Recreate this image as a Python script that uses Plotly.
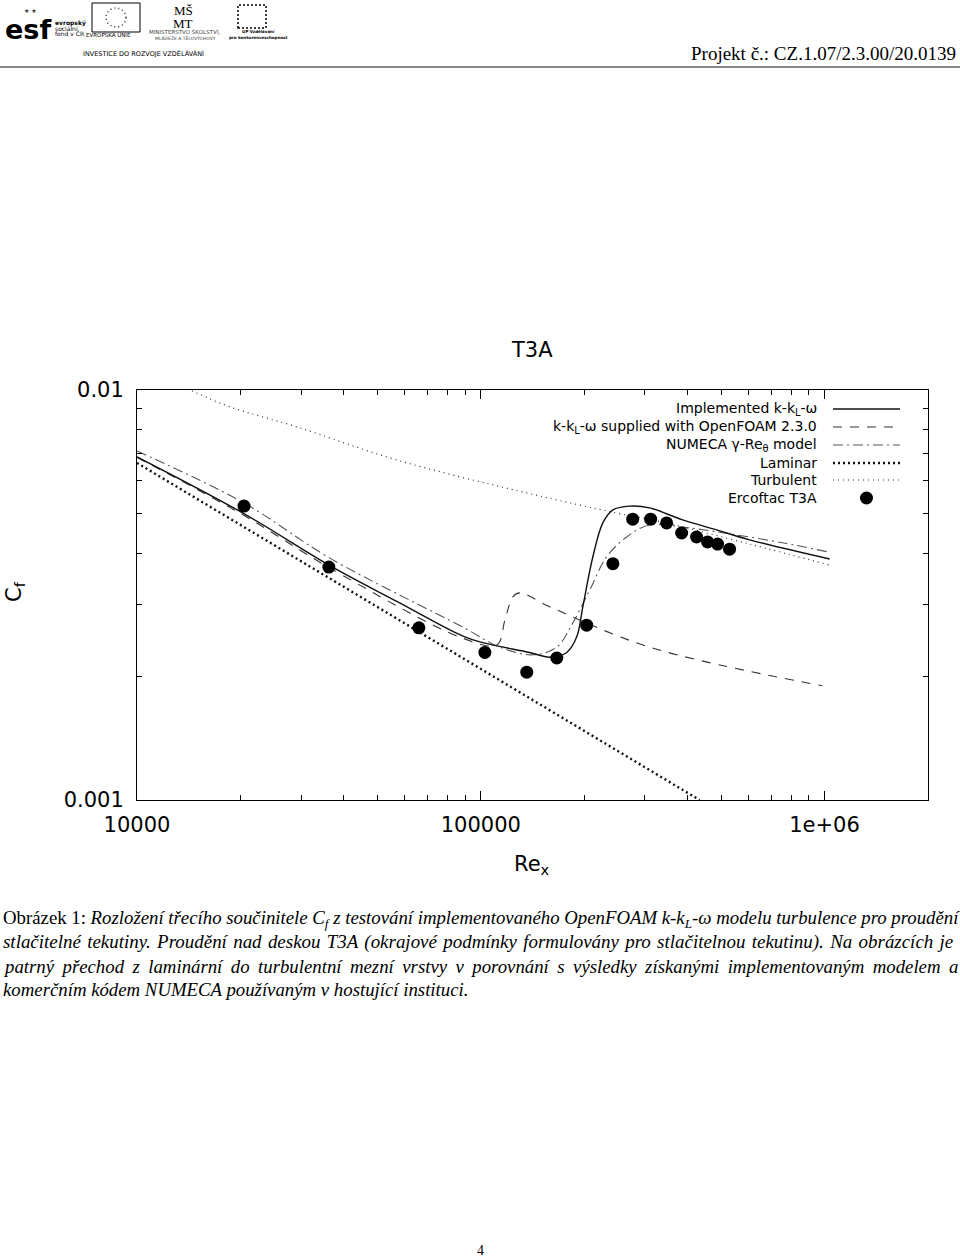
import plotly.graph_objects as go

# Re_x / C_f values
exp_re = [20480, 36140, 66070, 102800, 136100, 166400, 203300, 242300, 276700,
          312000, 347300, 384000, 424400, 456800, 488600, 529400]
exp_cf = [0.00521, 0.00370, 0.00263, 0.00229, 0.00205, 0.00222, 0.00267, 0.00377,
          0.00484, 0.00484, 0.00474, 0.00448, 0.00438, 0.00426, 0.00421, 0.00409]

impl_re = [10000, 20330, 36390, 57000, 88700, 101400, 138700, 158700, 177900, 190200,
           198100, 211900, 226500, 242300, 271200, 309800, 386500, 485200, 605300, 1035000]
impl_cf = [0.00687, 0.00501, 0.00373, 0.00305, 0.00251, 0.00242, 0.00229, 0.00223, 0.00229,
           0.00250, 0.00296, 0.00392, 0.00474, 0.00510, 0.00521, 0.00516, 0.00482, 0.00456,
           0.00431, 0.00387]

of_re = [10000, 20330, 36390, 88700, 111400, 117600, 124000, 129800, 158700, 309800, 986000]
of_cf = [0.00685, 0.00496, 0.00368, 0.00248, 0.00239, 0.00275, 0.00313, 0.00320, 0.00296,
         0.00236, 0.00190]

numeca_re = [10000, 20480, 36390, 88700, 113600, 141600, 166400, 185100, 207400, 232400,
             265600, 309800, 386500, 485200, 755000, 1035000]
numeca_cf = [0.00710, 0.00530, 0.00389, 0.00264, 0.00236, 0.00226, 0.00236, 0.00270,
             0.00325, 0.00392, 0.00438, 0.00469, 0.00463, 0.00451, 0.00424, 0.00402]

lam_re = [10000, 100000, 433000]
lam_cf = [0.00664, 0.00209, 0.00100]

turb_re = [10000, 14250, 18600, 29150, 57000, 136100, 248500, 338000, 605300, 1035000]
turb_cf = [0.0114, 0.0100, 0.00910, 0.00813, 0.00675, 0.00561, 0.00501, 0.00476,
           0.00421, 0.00374]

x_tickvals = [1e4, 1e5, 1e6]
x_ticktext = ["10000", "100000", "1e+06"]
y_tickvals = [0.001, 0.01]
y_ticktext = ["0.001", "0.01"]
x_minor = [k * 10 ** e for e in (4, 5) for k in range(2, 10)] + [2e6]
y_minor = [k * 0.001 for k in range(2, 10)]

legend_labels = [
    "Implemented k-k<sub>L</sub>-ω",
    "k-k<sub>L</sub>-ω supplied with OpenFOAM 2.3.0",
    "NUMECA γ-Re<sub>θ</sub> model",
    "Laminar",
    "Turbulent",
    "Ercoftac T3A",
]

caption_lines = [
    "Obrázek 1: <i>Rozložení třecího součinitele C<sub>f</sub> z testování implementovaného "
    "OpenFOAM k-k<sub>L</sub>-ω modelu turbulence pro proudění</i>",
    "<i>stlačitelné tekutiny. Proudění nad deskou T3A (okrajové podmínky formulovány pro "
    "stlačitelnou tekutinu). Na obrázcích je</i>",
    "<i>patrný přechod z laminární do turbulentní mezní vrstvy v porovnání s výsledky "
    "získanými implementovaným modelem a</i>",
    "<i>komerčním kódem NUMECA používaným v hostující instituci.</i>",
]
# extra space put into each word gap so the lines come out justified
caption_pad = ["", "\u200a", "\u2009", ""]
caption_size = [18.8, 18.95, 18.8, 18.8]

W, H = 960, 1259
L, R, T, B = 137, 928, 390, 800
SANS = "DejaVu Sans"
SERIF = "Liberation Serif"


def px(x):
    return (x - L) / (R - L)


def py(y):
    return (B - y) / (B - T)


def note(x, y, text, size, family=SANS, xanchor="center", color="black", **kw):
    fig.add_annotation(x=px(x), y=py(y), xref="paper", yref="paper", text=text,
                       showarrow=False, xanchor=xanchor, yanchor="middle",
                       font=dict(family=family, size=size, color=color), **kw)


def box(x0, y0, x1, y1, kind="rect", **line):
    fig.add_shape(type=kind, xref="paper", yref="paper", x0=px(x0), x1=px(x1),
                  y0=py(y1), y1=py(y0), line=line)


fig = go.Figure()

fig.add_trace(go.Scatter(x=turb_re, y=turb_cf, mode="lines", line_shape="spline",
                         line=dict(color="#333", width=1.2, dash="1px,4px")))
fig.add_trace(go.Scatter(x=lam_re, y=lam_cf, mode="lines",
                         line=dict(color="#111", width=2.4, dash="2px,3px")))
fig.add_trace(go.Scatter(x=numeca_re, y=numeca_cf, mode="lines", line_shape="spline",
                         line=dict(color="#555", width=1.1, dash="10px,4px,2px,4px")))
fig.add_trace(go.Scatter(x=of_re, y=of_cf, mode="lines", line_shape="spline",
                         line=dict(color="#333", width=1.1, dash="9px,8px")))
fig.add_trace(go.Scatter(x=impl_re, y=impl_cf, mode="lines", line_shape="spline",
                         line=dict(color="#111", width=1.4)))
fig.add_trace(go.Scatter(x=exp_re, y=exp_cf, mode="markers",
                         marker=dict(color="black", size=13)))

# legend drawn by hand: text right-aligned, sample on the right (gnuplot style)
row_y = [409, 427, 445, 463, 480, 498]
styles = [
    dict(color="#111", width=1.4, dash="solid"),
    dict(color="#333", width=1.1, dash="9px,8px"),
    dict(color="#555", width=1.1, dash="10px,4px,2px,4px"),
    dict(color="#111", width=2.4, dash="2px,3px"),
    dict(color="#333", width=1.2, dash="1px,4px"),
]
for i, lab in enumerate(legend_labels):
    note(819, row_y[i], lab, 14, xanchor="right")
    if i < 5:
        fig.add_shape(type="line", xref="paper", yref="paper",
                      x0=px(833), x1=px(900), y0=py(row_y[i]), y1=py(row_y[i]),
                      line=styles[i])
fig.add_shape(type="circle", xref="paper", yref="paper", fillcolor="black",
              line=dict(color="black", width=0),
              x0=px(860), x1=px(873), y0=py(504.5), y1=py(491.5))

axis_common = dict(type="log", showline=True, linecolor="black", linewidth=1,
                   mirror="allticks", ticks="inside", ticklen=9, tickcolor="black",
                   showgrid=False, zeroline=False,
                   tickfont=dict(family=SANS, size=21, color="black"))
fig.update_xaxes(range=[4, 6.30103], tickvals=x_tickvals, ticktext=x_ticktext,
                 minor=dict(tickvals=x_minor, ticks="inside", ticklen=5, tickcolor="black",
                            showgrid=False),
                 ticklabelstandoff=6, **axis_common)
fig.update_yaxes(range=[-3, -2], tickvals=y_tickvals, ticktext=y_ticktext,
                 minor=dict(tickvals=y_minor, ticks="inside", ticklen=5, tickcolor="black",
                            showgrid=False),
                 ticklabelstandoff=8, **axis_common)

# title and axis labels
note(532, 350, "T3A", 21)
note(532, 865, "Re<sub>x</sub>", 21)
note(15, 592, "C<sub>f</sub>", 21, textangle=-90)

# page header
note(958, 53, "Projekt č.: CZ.1.07/2.3.00/20.0139", 19, family=SERIF, xanchor="right")
fig.add_shape(type="line", xref="paper", yref="paper", x0=px(0), x1=px(960),
              y0=py(67), y1=py(67), line=dict(color="#888", width=2))
note(28, 29, "<b>esf</b>", 27)
note(30, 10, "★ ★", 6, color="#333")
note(53, 23, "<b>evropský</b>", 6, xanchor="left")
note(53, 28.5, "sociální", 6, xanchor="left")
note(53, 34, "fond v ČR", 6, xanchor="left")
box(92, 3, 140, 32, color="black", width=1)
box(106, 8, 126, 27, kind="circle", color="#333", width=1.5, dash="1px,3px")
note(108, 35, "EVROPSKÁ UNIE", 5.5)
note(183, 10, "MŠ", 13, family=SERIF)
note(183, 23, "MT", 13, family=SERIF)
note(184, 32, "MINISTERSTVO ŠKOLSTVÍ,", 5.5, color="#444")
note(185, 38, "MLÁDEŽE A TĚLOVÝCHOVY", 4.5, color="#444")
box(238, 5, 266, 28, color="black", width=1.5, dash="2px,2px")
note(258, 32, "<b>OP Vzdělávání</b>", 4)
note(258, 38, "<b>pro konkurenceschopnost</b>", 4)
note(143, 53, "INVESTICE DO ROZVOJE VZDĚLÁVÁNÍ", 6.5)

# caption
cap_y = [919, 942, 966, 989]
for yy, line, pad, size in zip(cap_y, caption_lines, caption_pad, caption_size):
    note(1, yy, line.replace(" ", " " + pad) if pad else line, size,
         family=SERIF, xanchor="left")
note(480, 1250, "4", 14, family=SERIF)

fig.update_layout(width=W, height=H, showlegend=False,
                  margin=dict(l=L, r=W - R, t=T, b=H - B, pad=0),
                  paper_bgcolor="white", plot_bgcolor="white")

fig.write_html("out.html", config={"displayModeBar": False},
               post_script="document.body.style.margin='0';")
